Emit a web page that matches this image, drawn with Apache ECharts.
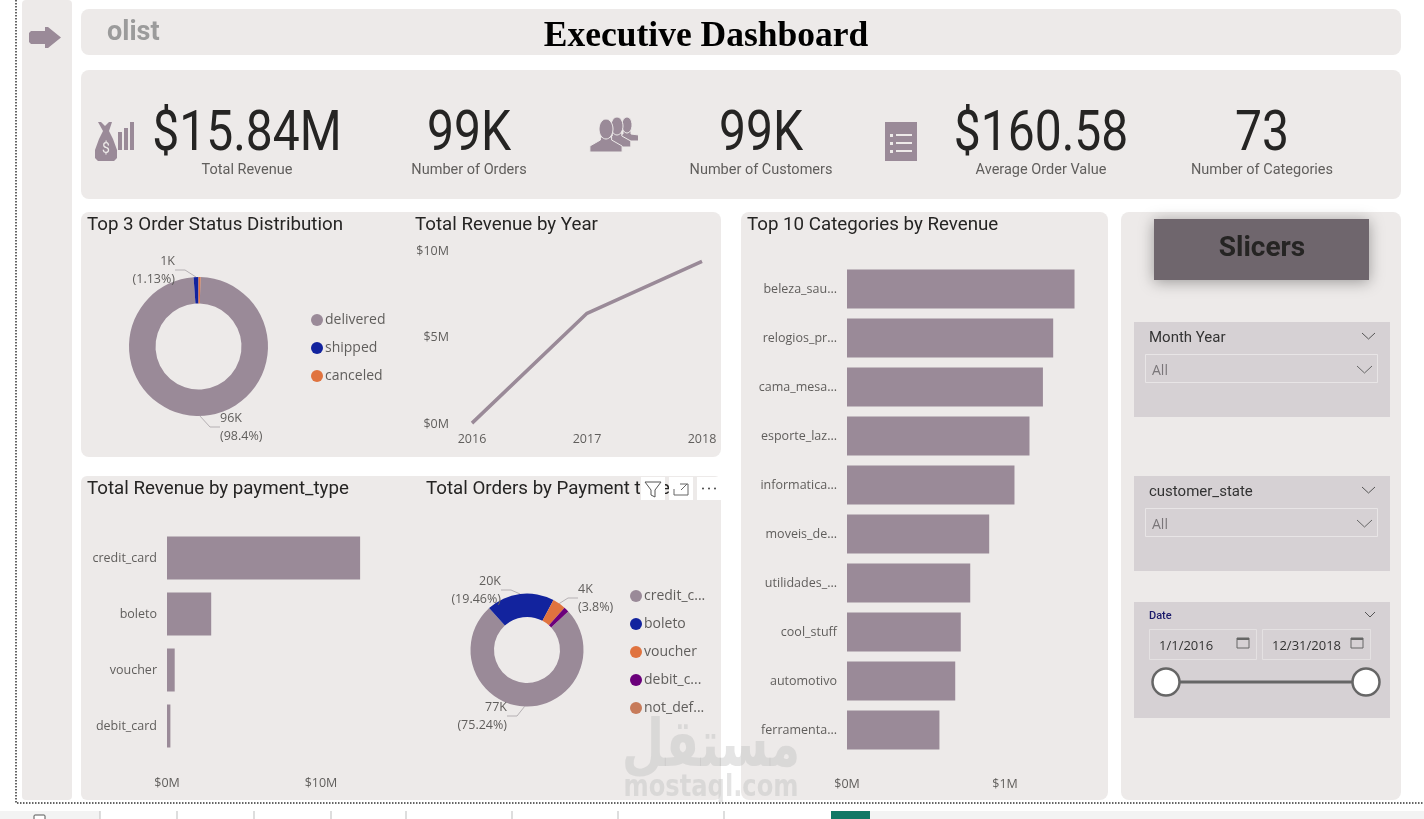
<!DOCTYPE html>
<html>
<head>
<meta charset="utf-8">
<title>Executive Dashboard</title>
<script src="https://cdn.jsdelivr.net/npm/echarts@6/dist/echarts.min.js"></script>
<style>
html, body { margin: 0; padding: 0; background: #fff; }
#main { width: 1424px; height: 819px; }
</style>
</head>
<body>
<div id="main"></div>
<script>
var kpi_values = ['$15.84M', '99K', '99K', '$160.58', '73'];
var kpi_names = ['Total Revenue', 'Number of Orders', 'Number of Customers', 'Average Order Value', 'Number of Categories'];

var status_names = ['delivered', 'shipped', 'canceled'];
var status_values = [98.4, 1.13, 0.47];
var status_labels = ['96K\n(98.4%)', '1K\n(1.13%)', ''];

var years = ['2016', '2017', '2018'];
var revenue_year = [0.05, 6.4, 9.4];

var payment_types = ['credit_card', 'boleto', 'voucher', 'debit_card'];
var payment_revenue = [12.54, 2.87, 0.5, 0.22];

var payment_names = ['credit_c...', 'boleto', 'voucher', 'debit_c...', 'not_def...'];
var payment_orders = [75.24, 19.46, 3.8, 1.47, 0.03];
var payment_labels = ['77K\n(75.24%)', '20K\n(19.46%)', '4K\n(3.8%)', '', ''];

var categories = ['beleza_sau...', 'relogios_pr...', 'cama_mesa...', 'esporte_laz...', 'informatica...', 'moveis_de...', 'utilidades_...', 'cool_stuff', 'automotivo', 'ferramenta...'];
var category_revenue = [1.44, 1.305, 1.24, 1.155, 1.06, 0.9, 0.78, 0.72, 0.685, 0.585];

var colors = ['#9A8A98', '#12239E', '#E0733F', '#6B007B', '#C77B5A'];
var panel = '#EDEAE9';
var slicer = '#D6D1D4';
var grey_text = '#605E5C';
var ui_font = '"Open Sans", "Noto Sans", sans-serif';
var din_font = 'Roboto, "Noto Sans", sans-serif';

var g = [];
function box(x, y, w, h, fill, r, extra) {
  g.push({ type: 'rect', z: 0, shape: { x: x, y: y, width: w, height: h, r: r || 0 }, style: Object.assign({ fill: fill }, extra || {}) });
}
function label(txt, x, y, size, color, align, font, weight, z, sx) {
  g.push({ type: 'text', z: z || 5, x: x, y: y + 1, scaleX: sx || 1, style: { text: txt, fill: color, font: (weight || 'normal') + ' ' + size + 'px ' + font, textAlign: align || 'left', textVerticalAlign: 'middle' } });
}
function poly(points, fill, z, extra) {
  g.push({ type: 'polygon', z: z || 5, shape: { points: points }, style: Object.assign({ fill: fill }, extra || {}) });
}
function stroke(points, color, w, z) {
  g.push({ type: 'polyline', z: z || 5, shape: { points: points }, style: { fill: null, stroke: color, lineWidth: w || 1 } });
}
function dot(x, y, r, fill, z, extra) {
  g.push({ type: 'circle', z: z || 5, shape: { cx: x, cy: y, r: r }, style: Object.assign({ fill: fill }, extra || {}) });
}
function chevron(x, y, w, h, color) {
  stroke([[x, y], [x + w / 2, y + h], [x + w, y]], color, 1);
}
function person(x, top, bottom, rx, ry, z) {
  var neck = top + ry * 2 - 2;
  poly([[x - rx * 0.8, neck], [x + rx * 0.8, neck], [x + rx * 0.8, neck + 3], [x + rx * 2.3, bottom - 6], [x + rx * 2.3, bottom], [x - rx * 2.3, bottom], [x - rx * 2.3, bottom - 6], [x - rx * 0.8, neck + 3]], colors[0], z, { stroke: panel, lineWidth: 1 });
  g.push({ type: 'ellipse', z: z, shape: { cx: x, cy: top + ry, rx: rx, ry: ry }, style: { fill: colors[0], stroke: panel, lineWidth: 1 } });
}

// panels
box(22, 0, 50, 800, panel, 4);
box(81, 9, 1320, 46, panel, 8);
box(81, 70, 1320, 129, panel, 8);
box(81, 212, 640, 245, panel, 8);
box(81, 476, 640, 324, panel, 6);
box(741, 212, 367, 588, panel, 8);
box(1121, 212, 280, 588, panel, 8);

// report frame and the sheet tabs under it
stroke([[16, 0], [16, 803], [1424, 803]], '#333', 1.5, 6);
g[g.length - 1].style.lineDash = [1.5, 1.5];
box(0, 811, 100, 8, '#F3F3F3');
box(870, 811, 554, 8, '#F3F3F3');
box(831, 811, 39, 8, '#117865');
[100, 177, 254, 331, 406, 512, 618, 724].forEach(function (x) {
  stroke([[x, 811], [x, 819]], '#BDBDBD', 1);
});
g.push({ type: 'rect', z: 5, shape: { x: 34, y: 815, width: 11, height: 6, r: 1 }, style: { fill: '#fff', stroke: '#555', lineWidth: 1 } });

// header
poly([[31, 31], [45, 31], [45, 27], [48, 27], [61, 37.5], [48, 48], [45, 48], [45, 44], [31, 44], [29, 42], [29, 33]], colors[0]);
label('olist', 107, 32, 27, '#9B9B9B', 'left', 'Roboto, sans-serif', 'bold');
label('Executive Dashboard', 706, 36, 35.5, '#000', 'center', '"Liberation Serif", serif', 'bold');

// kpi cards
var kpi_x = [247, 469, 761, 1041, 1262];
kpi_values.forEach(function (v, i) {
  label(v, kpi_x[i], 135, 56, '#252423', 'center', din_font, 'normal', 5, 0.857);
  label(kpi_names[i], kpi_x[i], 169.5, 14.5, grey_text, 'center', din_font);
});

// money bag icon
poly([[101, 122], [105, 126], [109, 122], [112, 122], [109, 131], [113, 139], [117, 150], [117, 158], [114, 161], [98, 161], [95, 158], [95, 150], [99, 139], [103, 131], [98, 122]], colors[0]);
label('$', 106, 148, 14, panel, 'center', din_font);
[[118, 132, 18], [124, 128, 22], [130, 122, 28]].forEach(function (b) {
  box(b[0], b[1], 4, b[2], colors[0]);
});

// people icon
person(627, 117, 141, 5, 8, 5);
person(617, 117, 147, 6, 9, 6);
person(606, 119, 152, 7, 10, 7);

// list icon
box(885, 122, 32, 39, colors[0]);
[134, 142, 150].forEach(function (y) {
  box(890, y, 3, 3, panel);
  box(896, y, 16, 2, panel);
});
g.slice(-6).forEach(function (e) { e.z = 6; });

// visual titles
function title(txt, x, y) {
  label(txt, x, y, 18, '#252423', 'left', din_font, 'normal', 5, 1.04);
}
title('Top 3 Order Status Distribution', 87, 224);
title('Total Revenue by Year', 415, 224);
title('Total Revenue by payment_type', 87, 488);
title('Total Orders by Payment type', 426, 488);
title('Top 10 Categories by Revenue', 747, 224);

// visual header buttons
[641, 669, 697].forEach(function (x) {
  g.push({ type: 'rect', z: 7, shape: { x: x, y: 477, width: 24, height: 23 }, style: { fill: '#fff' } });
});
stroke([[645, 482], [661, 482], [655, 490], [655, 497], [651, 495], [651, 490], [645, 482]], '#555', 1, 8);
stroke([[680, 484], [688, 484], [688, 495], [674, 495], [674, 489]], '#666', 1, 8);
stroke([[681, 490], [687, 484]], '#666', 1, 8);
[703, 709, 715].forEach(function (x) { dot(x, 488.5, 1, '#444', 8); });

// slicers panel
g.push({ type: 'rect', z: 1, shape: { x: 1154, y: 219, width: 215, height: 61 }, style: { fill: '#6F666D', shadowBlur: 14, shadowColor: 'rgba(0,0,0,0.35)', shadowOffsetY: 2 } });
label('Slicers', 1262, 248, 28, '#252423', 'center', din_font, 'bold');

function dropdown(y, name) {
  box(1134, y, 256, 95, slicer);
  label(name, 1149, y + 15, 15, '#333', 'left', din_font);
  chevron(1362, y + 11, 13, 6, '#555');
  g.push({ type: 'rect', z: 2, shape: { x: 1145.5, y: y + 32.5, width: 232, height: 28 }, style: { fill: 'none', stroke: '#E8E5E6', lineWidth: 1 } });
  label('All', 1152, y + 48, 14, '#7A7679', 'left', ui_font);
  chevron(1357, y + 44, 15, 7, '#666');
}
dropdown(322, 'Month Year');
dropdown(476, 'customer_state');

function cal_icon(x) {
  g.push({ type: 'rect', z: 5, shape: { x: x, y: 638, width: 12, height: 10 }, style: { fill: 'none', stroke: '#666', lineWidth: 1 } });
  box(x, 638, 12, 2, '#666');
  g[g.length - 1].z = 5;
}
box(1134, 602, 256, 116, slicer);
label('Date', 1149, 615, 11, '#1A1A6B', 'left', din_font, '500');
chevron(1365, 612, 10, 5, '#555');
[[1149, 107, '1/1/2016'], [1262, 108, '12/31/2018']].forEach(function (d) {
  g.push({ type: 'rect', z: 2, shape: { x: d[0] + 0.5, y: 629.5, width: d[1], height: 30 }, style: { fill: 'none', stroke: '#E4E1E2', lineWidth: 1 } });
  label(d[2], d[0] + 10, 645, 13, '#333', 'left', ui_font);
});
cal_icon(1237);
cal_icon(1351);
g.push({ type: 'line', z: 4, shape: { x1: 1166, y1: 682, x2: 1366, y2: 682 }, style: { stroke: '#666', lineWidth: 3 } });
dot(1166, 682, 13.5, '#fff', 5, { stroke: '#666', lineWidth: 2.5 });
dot(1366, 682, 13.5, '#fff', 5, { stroke: '#666', lineWidth: 2.5 });

// watermark
label('مستقل', 711, 748, 66, 'rgba(190,190,190,0.42)', 'center', '"DejaVu Sans", sans-serif', 'bold', 9, 0.74);
label('mostaql.com', 711, 787, 31, 'rgba(190,190,190,0.42)', 'center', '"DejaVu Sans", sans-serif', 'bold', 9, 0.78);

function dollars(v) {
  return '$' + v + 'M';
}
function hbar_axes(index, names, max, interval) {
  return {
    x: {
      gridIndex: index, type: 'value', min: 0, max: max, interval: interval,
      splitLine: { show: false }, axisLine: { show: false }, axisTick: { show: false },
      axisLabel: { formatter: dollars, showMaxLabel: false, margin: 23, color: grey_text, fontSize: 12.5, fontFamily: ui_font }
    },
    y: {
      gridIndex: index, type: 'category', inverse: true, data: names,
      axisLine: { show: false }, axisTick: { show: false },
      axisLabel: { margin: 10, padding: [4, 0, 0, 0], color: grey_text, fontSize: 12.5, fontFamily: ui_font }
    }
  };
}
var bars_pay = hbar_axes(1, payment_types, 14, 10);
var bars_cat = hbar_axes(2, categories, 1.5, 1);

function donut(name, cx, cy, inner, outer, start, names, values, labels, layouts) {
  return {
    name: name, type: 'pie', center: [cx, cy], radius: [inner, outer], startAngle: start,
    silent: true,
    data: names.map(function (n, i) {
      return {
        name: n, value: values[i], itemStyle: { color: colors[i] },
        label: { show: !!labels[i], formatter: labels[i] || '' },
        labelLine: { show: !!labels[i] }
      };
    }),
    label: { color: grey_text, fontSize: 12.5, fontFamily: ui_font, lineHeight: 18 },
    labelLine: { length: 8, length2: 10, lineStyle: { color: '#B5B0B3', width: 1 } },
    labelLayout: function (params) {
      return layouts[params.dataIndex] || {};
    }
  };
}

function legend_for(names, left, top) {
  return {
    orient: 'vertical', left: left, top: top, data: names, icon: 'circle', itemWidth: 12, itemHeight: 12,
    itemGap: 14, selectedMode: false, padding: 0,
    textStyle: { color: grey_text, fontSize: 14, fontFamily: ui_font, padding: [0, 0, 0, -3] }
  };
}

var option = {
  animation: false,
  backgroundColor: '#fff',
  graphic: { elements: g },
  legend: [legend_for(status_names, 311, 313), legend_for(payment_names, 630, 589)],
  grid: [
    { left: 472, top: 251, width: 230, height: 173 },
    { left: 167, top: 530, width: 215.6, height: 224 },
    { left: 847, top: 264.5, width: 237, height: 490 }
  ],
  xAxis: [
    {
      gridIndex: 0, type: 'category', boundaryGap: false, data: years,
      axisLine: { show: false }, axisTick: { show: false },
      axisLabel: { margin: 9, color: grey_text, fontSize: 12.5, fontFamily: ui_font }
    },
    bars_pay.x, bars_cat.x
  ],
  yAxis: [
    {
      gridIndex: 0, type: 'value', min: 0, max: 10, interval: 5,
      splitLine: { show: false }, axisLine: { show: false }, axisTick: { show: false },
      axisLabel: { formatter: dollars, margin: 23, padding: [4, 0, 0, 0], color: grey_text, fontSize: 12.5, fontFamily: ui_font }
    },
    bars_pay.y, bars_cat.y
  ],
  series: [
    donut('status', 198.5, 346.5, 43, 69.5, 88.3, status_names, status_values, status_labels, [
      { x: 220, y: 427, align: 'left', verticalAlign: 'middle' },
      { x: 175, y: 270, align: 'right', verticalAlign: 'middle' }
    ]),
    donut('orders', 527, 650, 33, 56.5, 43, payment_names, payment_orders, payment_labels, [
      { x: 507, y: 716, align: 'right', verticalAlign: 'middle' },
      { x: 501, y: 590, align: 'right', verticalAlign: 'middle' },
      { x: 578, y: 598, align: 'left', verticalAlign: 'middle' }
    ]),
    {
      type: 'line', xAxisIndex: 0, yAxisIndex: 0, data: revenue_year, showSymbol: false, silent: true,
      lineStyle: { color: colors[0], width: 3.5 }
    },
    {
      type: 'bar', xAxisIndex: 1, yAxisIndex: 1, data: payment_revenue, barWidth: 43, silent: true,
      itemStyle: { color: colors[0] }
    },
    {
      type: 'bar', xAxisIndex: 2, yAxisIndex: 2, data: category_revenue, barWidth: 39, silent: true,
      itemStyle: { color: colors[0] }
    }
  ]
};

var myChart = echarts.init(document.getElementById('main'));
myChart.setOption(option);
window.addEventListener('resize', function () {
  myChart.resize();
});
</script>
</body>
</html>
